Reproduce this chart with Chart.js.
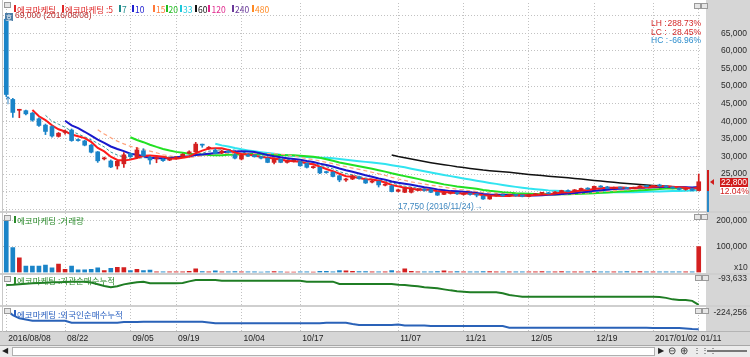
<!DOCTYPE html>
<html><head><meta charset="utf-8">
<script src="https://cdn.jsdelivr.net/npm/chart.js@4.4.1/dist/chart.umd.min.js"></script>
<style>
html,body{margin:0;padding:0}
body{width:750px;height:357px;overflow:hidden;background:#fff;position:relative}
.a{position:absolute}
canvas{position:absolute;left:0}
.k{position:absolute;white-space:nowrap;font-family:"Noto Sans CJK KR",sans-serif;font-size:8.5px;line-height:10px}
.n{position:absolute;white-space:nowrap;font-family:"Liberation Sans",Arial,sans-serif;font-size:8.5px;line-height:10px}
.b{position:absolute;width:2px;height:7px}
.ic{position:absolute;width:5px;height:4px;border:1px solid #9a9a9a;background:#e6e6e6}
.row{position:absolute;width:50px;display:flex;justify-content:space-between;font-family:"Liberation Sans",Arial,sans-serif;font-size:8.5px;line-height:9px;white-space:pre}
</style></head><body>
<div class="a" style="left:706px;top:0;width:44px;height:332px;background:#d6d6d6"></div>
<div class="a" style="left:0;top:332px;width:750px;height:13px;background:#d6d6d6"></div>
<canvas id="cP" width="750" height="213" style="top:0"></canvas>
<canvas id="cV" width="750" height="61" style="top:213px"></canvas>
<canvas id="cI" width="750" height="32" style="top:274px"></canvas>
<canvas id="cF" width="750" height="39" style="top:306px"></canvas>

<!-- pane separators and frame -->
<div class="a" style="left:0;top:211px;width:750px;height:2px;background:#cfcfcf"></div>
<div class="a" style="left:0;top:273px;width:750px;height:2px;background:#cfcfcf"></div>
<div class="a" style="left:0;top:305px;width:750px;height:2px;background:#cfcfcf"></div>
<div class="a" style="left:0;top:331px;width:750px;height:1px;background:#b4b4b4"></div>
<div class="a" style="left:2px;top:0;width:1px;height:332px;background:#c8c8c8"></div>

<!-- price pane header -->
<div class="ic" style="left:4px;top:2px"></div>
<div class="a" style="left:5px;top:13px;width:8px;height:8px;background:#4d7ea8;color:#fff;font:6.5px 'Noto Sans CJK KR';line-height:8px;text-align:center">호</div>
<i class="b" style="left:14px;top:5px;background:#e02828"></i><span class="k" style="left:17px;top:3.8px;color:#e02828">에코마케팅</span>
<i class="b" style="left:62px;top:5px;background:#e02828"></i><span class="k" style="left:65px;top:3.8px;color:#e02828">에코마케팅 :5</span>
<i class="b" style="left:119px;top:5px;background:#1e8c8c"></i><span class="k" style="left:122px;top:3.8px;color:#1e8c8c">7</span>
<i class="b" style="left:132px;top:5px;background:#2020d0"></i><span class="k" style="left:135px;top:3.8px;color:#2020d0">10</span>
<i class="b" style="left:153px;top:5px;background:#ff7a3a"></i><span class="k" style="left:156px;top:3.8px;color:#ff7a3a">15</span>
<i class="b" style="left:166px;top:5px;background:#22bb22"></i><span class="k" style="left:168.5px;top:3.8px;color:#22bb22">20</span>
<i class="b" style="left:180px;top:5px;background:#1ec8dc"></i><span class="k" style="left:183px;top:3.8px;color:#1ec8dc">33</span>
<i class="b" style="left:195px;top:5px;background:#111"></i><span class="k" style="left:198px;top:3.8px;color:#111">60</span>
<i class="b" style="left:208px;top:5px;background:#e0288c"></i><span class="k" style="left:211.5px;top:3.8px;color:#e0288c">120</span>
<i class="b" style="left:232px;top:5px;background:#6a3a9a"></i><span class="k" style="left:235px;top:3.8px;color:#6a3a9a">240</span>
<i class="b" style="left:252px;top:5px;background:#ff8a24"></i><span class="k" style="left:255px;top:3.8px;color:#ff8a24">480</span>
<span class="n" style="left:15px;top:9.5px;color:#b83232">69,000 (2016/08/08)</span>
<span class="k" style="left:3.5px;top:96px;color:#2a7fc0;font-weight:bold;font-size:9px">↑</span>
<div class="ic" style="left:694px;top:3px"></div><div class="ic" style="left:701px;top:3px"></div>
<div class="row" style="left:651px;top:19px;color:#d42828"><span>LH :</span><span>288.73%</span></div>
<div class="row" style="left:651px;top:27.5px;color:#d42828"><span>LC :</span><span>28.45%</span></div>
<div class="row" style="left:651px;top:35.5px;color:#2a8ccc"><span>HC :</span><span>-66.96%</span></div>
<span class="n" style="left:398px;top:201px;color:#3f88c0">17,750 (2016/11/24)→</span>

<!-- last price marker -->
<div class="a" style="left:707px;top:170px;width:2px;height:21px;background:#d01c1c"></div>
<div class="a" style="left:707px;top:191px;width:2px;height:21px;background:#2a8ac8"></div>
<div class="a" style="left:710px;top:179px;width:0;height:0;border-top:3px solid transparent;border-bottom:3px solid transparent;border-right:4px solid #d01c1c"></div>
<div class="n" style="left:720px;top:178px;width:28px;height:8.5px;line-height:8.5px;background:#d01c1c;color:#fff;text-align:center">22,800</div>
<div class="n" style="left:720px;top:187px;width:28px;height:8px;line-height:8px;background:#fff;color:#d01c1c;text-align:center">12.04%</div>

<!-- volume pane header -->
<div class="ic" style="left:4px;top:215px"></div>
<i class="b" style="left:14px;top:216px;background:#2a8a2a"></i><span class="k" style="left:17px;top:214.7px;color:#2a8a2a">에코마케팅 :거래량</span>
<div class="ic" style="left:694px;top:214px"></div><div class="ic" style="left:701px;top:214px"></div>
<span class="n" style="left:734px;top:261.5px;color:#333">x10</span>

<!-- institution pane header -->
<div class="ic" style="left:4px;top:276px"></div>
<i class="b" style="left:14px;top:276.5px;background:#2a8a2a"></i><span class="k" style="left:17px;top:274.7px;color:#2a8a2a">에코마케팅 :기관순매수누적</span>
<div class="ic" style="left:695px;top:275px"></div><div class="ic" style="left:702px;top:275px"></div>

<!-- foreign pane header -->
<div class="ic" style="left:4px;top:308px"></div>
<i class="b" style="left:14px;top:310px;background:#2a60c0"></i><span class="k" style="left:17px;top:308.7px;color:#2a60c0">에코마케팅 :외국인순매수누적</span>
<div class="ic" style="left:695px;top:308px"></div><div class="ic" style="left:702px;top:308px"></div>

<!-- scrollbar -->
<div class="a" style="left:0;top:345px;width:750px;height:12px;background:#ececec;border-top:1px solid #a8a8a8;box-sizing:border-box"></div>
<div class="a" style="left:12px;top:347px;width:643px;height:9px;background:#fff;border:1px solid #b0b0b0;box-sizing:border-box"></div>
<span class="n" style="left:2px;top:346px;font-size:8px;color:#222">◀</span>
<span class="n" style="left:658px;top:346px;font-size:8px;color:#222">▶</span>
<span class="n" style="left:668px;top:346px;font-size:10px;color:#333">⊖</span>
<span class="n" style="left:680px;top:346px;font-size:10px;color:#333">⊕</span>
<span class="n" style="left:693px;top:346px;font-size:8px;color:#333">⋮⋮⋮</span>
<div class="a" style="left:707px;top:350px;width:40px;height:2px;background:#777"></div>

<script>
// ---------- data ----------
const dates = [
'2016/08/08','2016/08/09','2016/08/10','2016/08/11','2016/08/12',
'2016/08/16','2016/08/17','2016/08/18','2016/08/19',
'2016/08/22','2016/08/23','2016/08/24','2016/08/25','2016/08/26',
'2016/08/29','2016/08/30','2016/08/31','2016/09/01','2016/09/02',
'2016/09/05','2016/09/06','2016/09/07','2016/09/08','2016/09/09',
'2016/09/12','2016/09/13',
'2016/09/19','2016/09/20','2016/09/21','2016/09/22','2016/09/23',
'2016/09/26','2016/09/27','2016/09/28','2016/09/29','2016/09/30',
'2016/10/04','2016/10/05','2016/10/06','2016/10/07',
'2016/10/10','2016/10/11','2016/10/12','2016/10/13','2016/10/14',
'2016/10/17','2016/10/18','2016/10/19','2016/10/20','2016/10/21',
'2016/10/24','2016/10/25','2016/10/26','2016/10/27','2016/10/28',
'2016/10/31','2016/11/01','2016/11/02','2016/11/03','2016/11/04',
'2016/11/07','2016/11/08','2016/11/09','2016/11/10','2016/11/11',
'2016/11/14','2016/11/15','2016/11/16','2016/11/17','2016/11/18',
'2016/11/21','2016/11/22','2016/11/23','2016/11/24','2016/11/25',
'2016/11/28','2016/11/29','2016/11/30','2016/12/01','2016/12/02',
'2016/12/05','2016/12/06','2016/12/07','2016/12/08','2016/12/09',
'2016/12/12','2016/12/13','2016/12/14','2016/12/15','2016/12/16',
'2016/12/19','2016/12/20','2016/12/21','2016/12/22','2016/12/23',
'2016/12/26','2016/12/27','2016/12/28','2016/12/29',
'2017/01/02','2017/01/03','2017/01/04','2017/01/05','2017/01/06',
'2017/01/09','2017/01/10','2017/01/11'];

const xTickDates = ['2016/08/08','2016/08/22','2016/09/05','2016/09/19','2016/10/04','2016/10/17','2016/11/07','2016/11/21','2016/12/05','2016/12/19','2017/01/02','2017/01/11'];
const xTickText  = ['2016/08/08','08/22','09/05','09/19','10/04','10/17','11/07','11/21','12/05','12/19','2017/01/02','01/11'];

const opens = [
69000,46200,43100,43000,42300,40700,38900,38500,35700,36800,
37500,34800,34400,33200,31300,29300,28700,27300,27900,30850,
29700,31600,29700,29300,29200,28950,29500,30000,30900,31300,
33400,32300,31800,31000,31500,30450,29250,30300,30300,29900,
29450,28300,29200,28300,28600,28500,28000,26800,26900,25600,
25500,24500,23300,23570,24200,23300,22700,22900,21800,21600,
20100,19800,19800,20400,20600,20550,19800,19200,19500,19700,
19200,19400,19300,18700,17900,18800,19100,18800,19000,18900,
18600,19100,19500,19600,19500,19900,20300,20100,20500,20900,
20800,21500,21300,20900,21200,21000,20900,21200,21500,21500,
21800,21600,21300,21000,20600,20800,20300];
const highs = [
69000,46500,43400,43200,42500,41000,39200,38700,36800,37500,
37800,35000,34600,33400,31400,29800,29000,28800,31100,31000,
32500,32200,30000,29800,29400,29600,30000,30800,31600,34000,
33500,32800,32200,31800,31700,30800,30500,30600,30400,30000,
29600,29300,29300,28900,29000,28700,28100,27300,27000,25800,
25600,24600,23800,24700,24400,23500,23200,23000,22300,21800,
20700,21100,21200,20900,20800,20700,19900,19900,19900,19800,
19600,19500,19400,18900,19000,19300,19300,19200,19200,19000,
19300,19500,19800,19800,20000,20400,20500,20600,21000,21100,
21600,21700,21500,21300,21300,21200,21300,21700,21800,21800,
22100,21800,21400,21100,21000,20900,25000];
const lows = [
47000,41100,41000,41800,40000,38500,36200,35500,35500,36300,
34300,34300,33000,31000,28300,29000,26800,26400,26900,29700,
29500,30000,27800,28200,28600,28800,29300,29800,30700,31200,
32600,32000,30700,30800,31000,29300,29000,29900,29800,29300,
28200,27900,28200,28100,28400,27200,26700,26600,25100,25200,
24200,22800,22900,23400,23500,22300,22500,21300,21600,19900,
19900,19700,19600,20200,20100,19700,18900,19100,19300,19200,
19000,19000,18500,17750,17800,18700,18700,18600,18700,18500,
18500,19000,19300,19300,19400,19800,19900,20000,20400,20600,
20700,21200,20800,20800,20900,20800,20800,21100,21300,21300,
21500,21200,20800,20500,20400,20200,20200];
const closes = [
47600,42500,43400,42100,40300,38800,37100,35800,36600,37200,
34500,34500,33200,31200,28750,29500,27000,28600,30450,29900,
31850,30200,29000,29600,28800,29450,29700,30600,31300,33500,
33200,32600,30850,31500,31200,29500,30350,30100,29900,29500,
28300,29200,28300,28700,28800,27340,26900,27100,25300,25400,
24300,23300,23500,24500,23700,22450,22900,21900,22100,20000,
20500,20900,20750,20600,20400,19800,19000,19700,19700,19400,
19400,19200,19000,17900,18850,19100,18800,19000,18900,18700,
19100,19400,19600,19400,19900,20300,20000,20500,20900,20700,
21500,21300,20900,21200,21000,20900,21200,21600,21400,21700,
21600,21300,21000,20600,20800,20350,22800];

// moving-average lines (first index where each line begins)
const ma5Start = 4;
const ma5 = [
43180,41420,40340,38820,37720,37100,36240,35720,35200,34120,
32430,31430,29930,29010,28860,29090,29560,30200,30280,30110,
29890,29410,29310,29630,29970,30910,31660,32240,32290,32330,
31870,31130,30680,30530,30210,29870,29630,29400,29040,28800,
28660,28468,28008,27768,27088,26408,25800,25080,24360,24200,
23860,23490,23410,23090,22610,21870,21480,21080,20850,20550,
20630,20490,20110,19900,19720,19520,19440,19480,19340,18980,
18870,18810,18730,18730,18930,18900,18900,19020,19140,19240,
19480,19720,19840,20020,20320,20480,20720,20980,21060,21120,
21180,21060,21040,21180,21220,21360,21500,21520,21400,21240,
21060,20810,21110];
const ma7Start = 6;
const ma7 = [
41686,40000,39157,38271,37186,36357,35557,34714,33707,32693,
31236,30393,29814,29343,29436,29643,29571,29943,29971,29829,
29800,29621,29779,30421,30936,31479,31679,31936,32021,31764,
31314,30871,30486,30293,29836,29550,29379,29143,28957,28591,
28220,28049,27491,27077,26449,25663,25114,24771,24286,23879,
23521,23179,23007,22507,21936,21536,21293,20964,20750,20421,
20279,20164,19993,19800,19629,19457,19343,19186,19064,18979,
18893,18836,18793,18750,18921,19000,19071,19157,19286,19486,
19671,19871,20086,20243,20543,20743,20829,21000,21071,21071,
21143,21157,21171,21286,21343,21386,21400,21314,21200,21050,21207];
const ma10Start = 9;
const ma10 = [
40140,38830,38030,37010,35920,34765,33835,32825,32105,31490,
30760,30495,30065,29645,29485,29490,29485,29755,29955,30040,
30400,30535,30775,30960,31150,31390,31395,31460,31410,31270,
30870,30380,30040,29785,29505,29265,29049,28704,28404,27944,
27534,27134,26544,26064,25644,25134,24645,24245,23725,23405,
22865,22485,22245,21970,21580,21250,20985,20595,20375,20135,
20075,19965,19795,19620,19350,19195,19125,19105,19035,18955,
18885,18855,18875,18935,19085,19190,19310,19430,19580,19780,
19980,20220,20410,20540,20720,20830,20890,21010,21120,21170,
21270,21280,21280,21290,21230,21210,21155,21315];
const ma15Start = 14;
const ma15 = [
37570,36363,35330,34343,33567,32873,32410,31950,31497,31030,
30470,30133,29813,29640,29647,29963,30210,30583,30733,30803,
30890,30733,30743,30817,30837,30883,30807,30773,30620,30447,
30133,29743,29363,29113,28699,28313,27966,27496,27056,26696,
26309,25919,25499,25073,24633,24046,23590,23190,22767,22453,
22120,21820,21533,21280,20960,20673,20470,20223,20030,19750,
19673,19580,19440,19323,19210,19097,19050,19077,19070,19050,
19083,19143,19197,19297,19497,19620,19780,19947,20073,20227,
20380,20500,20620,20753,20887,21007,21093,21180,21213,21193,
21200,21123,21223];
const ma20Start = 19;
const ma20 = [
35450,34663,34048,33328,32703,32128,31660,31290,31030,30765,
30580,30515,30420,30303,30318,30440,30440,30608,30683,30655,
30635,30458,30408,30373,30328,30328,30222,30082,29907,29607,
29202,28757,28292,27925,27575,27200,26847,26475,26065,25675,
25200,24810,24395,24017,23612,23192,22815,22420,22050,21770,
21470,21225,21020,20795,20465,20223,20055,19850,19705,19545,
19480,19410,19335,19278,19218,19193,19218,19268,19308,19368,
19433,19538,19643,19738,19903,20010,20100,20220,20350,20475,
20625,20750,20845,20915,20975,21020,21023,21163];
const ma33Start = 32;
const ma33 = [
33626,33138,32795,32374,32018,31709,31439,31209,30982,30758,
30488,30312,30139,29962,29832,29782,29654,29606,29476,29259,
29065,28842,28645,28447,28244,28035,27812,27518,27212,26897,
26510,26128,25759,25424,25045,24697,24400,24068,23744,23419,
23101,22786,22472,22194,21894,21597,21341,21092,20850,20671,
20495,20347,20244,20147,20011,19914,19867,19800,19788,19764,
19791,19812,19815,19820,19838,19874,19923,20005,20062,20111,
20159,20195,20244,20285,20433];
const ma60Start = 59;
const ma60 = [
30428,29977,29617,29239,28881,28549,28232,27931,27662,27381,
27084,26832,26577,26341,26119,25954,25781,25644,25484,25292,
25105,24892,24712,24556,24386,24237,24085,23923,23755,23582,
23368,23173,22985,22819,22647,22477,22334,22182,22040,21898,
21768,21657,21525,21403,21268,21135,21018,20950];

const volumes = [
204000,96000,57000,25000,25000,25000,29000,18000,33000,12000,
25000,10000,10000,12000,18000,7000,16000,20000,19000,7000,
12000,7000,9000,3000,2500,2500,2500,3000,5000,14000,
4000,3000,6000,2500,3000,3500,2500,2500,3000,2000,
3000,4000,2500,2000,2000,3000,3000,2000,5000,5000,
3000,7000,6000,5000,4000,4000,3000,3000,3000,7000,
3000,14000,5000,3000,2500,3000,4000,6000,3000,4000,
2500,3000,3000,4000,4000,3000,2500,3000,2500,3000,
2500,3000,4000,3000,2500,4000,3000,2500,3000,2500,
3500,3000,3000,2500,3000,4000,3000,3500,3000,2500,
3000,3000,2500,3000,2500,3000,100000];

const instCum = [
-99600,-99300,-98800,-98300,-98000,-97600,-97300,-97000,-96800,-96600,
-96400,-96300,-96300,-97200,-98800,-100600,-101900,-100800,-99000,-97800,
-96800,-96300,-97900,-97900,-97900,-97900,-97900,-97600,-96000,-94600,
-94600,-94600,-94600,-95300,-95300,-95300,-95300,-95300,-95300,-95300,
-95300,-95300,-95300,-95300,-95300,-95300,-96300,-96300,-96300,-96300,
-96300,-98600,-98600,-98600,-98600,-98600,-98600,-98600,-98600,-98600,
-99300,-99600,-100300,-101000,-101800,-102300,-102900,-104000,-105000,-105800,
-106300,-106900,-106900,-106900,-106900,-106900,-107800,-109600,-110500,-111300,
-111300,-111300,-111300,-111300,-111300,-111300,-111300,-111300,-111300,-111300,
-111300,-111300,-111300,-111300,-111300,-111300,-111300,-111300,-111300,-111300,
-111600,-112500,-114000,-114600,-114600,-115500,-119600];
const foreignCum = [
-221300,-226300,-229600,-230800,-232000,-232000,-232000,-232000,-232000,-232000,
-234000,-234000,-234000,-234000,-234000,-234000,-234000,-234000,-233300,-233300,
-233300,-233000,-233000,-233000,-233000,-233000,-233000,-233000,-233000,-233000,
-233000,-233800,-234600,-234600,-234600,-234600,-234600,-234600,-234600,-234600,
-234600,-234600,-234600,-234600,-234600,-234600,-234600,-234600,-234600,-234000,
-234000,-234000,-234000,-235300,-236300,-236300,-236300,-236300,-236300,-236300,
-235800,-236800,-236800,-236800,-236800,-237300,-237300,-237300,-237300,-237300,
-237300,-237300,-237300,-237300,-237300,-237300,-237300,-239000,-239000,-239000,
-239000,-239000,-239000,-239000,-239000,-239000,-239000,-239000,-239000,-239000,
-239000,-239000,-239000,-239000,-239000,-239000,-239000,-239000,-239000,-239300,
-239300,-239300,-239300,-239300,-239800,-240300,-240600];

// axis tick values
const priceGridTicks  = [15000,20000,25000,30000,35000,40000,45000,50000,55000,60000,65000,70000];
const priceLabelTicks = [25000,30000,35000,40000,45000,50000,55000,60000,65000];
const volumeTicks = [100000,200000];
const instTicks = [-93633];
const foreignTicks = [-224256];

// ---------- rendering ----------
const RED = '#d42020', BLUE = '#1a84c8';
const candleColors = closes.map((c,i) => c >= opens[i] ? RED : BLUE);
const series = (start, vals) => dates.map((d,i) => (i >= start && i - start < vals.length) ? vals[i - start] : null);
const gridIdx = xTickDates.map(d => dates.indexOf(d));
const FONT_N = '"Liberation Sans", Arial, sans-serif';
const mctx = document.createElement('canvas').getContext('2d');
mctx.font = '8.5px ' + FONT_N;
const fmt = v => v.toLocaleString('en-US');
const padFor = vals => 45 - Math.max(...vals.map(v => mctx.measureText(fmt(v)).width));

function xScale(show){
  return {
    type:'category', offset:true,
    afterFit: s => { s.height = show ? 13 : 0; s.paddingLeft = 0; s.paddingRight = 0; },
    grid:{offset:false, drawTicks:false, lineWidth:1, color: c => gridIdx.includes(c.index) ? '#c2c2c2' : 'rgba(0,0,0,0)'},
    border:{display:false, dash:[1,2]},
    ticks:{display:show, autoSkip:false, maxRotation:0, minRotation:0, align:'start', labelOffset:2, padding:2,
      color:'#222', font:{family:FONT_N, size:8.5},
      callback:(v,i) => { const k = gridIdx.indexOf(i); return k >= 0 ? xTickText[k] : ''; }}
  };
}
function yScale(min, max, gridVals, labelVals, showGrid){
  return {
    position:'right', min, max,
    afterBuildTicks: s => { s.ticks = gridVals.map(v => ({value:v})); },
    afterFit: s => { s.width = 45; s.paddingTop = 0; s.paddingBottom = 0; },
    grid:{display:showGrid, drawTicks:false, color:'#c2c2c2', lineWidth:1},
    border:{display:false, dash:[1,2]},
    ticks:{autoSkip:false, crossAlign:'far', padding:padFor(labelVals), color:'#2a2a2a', font:{family:FONT_N, size:8.5},
      callback: v => labelVals.includes(v) ? fmt(v) : ''}
  };
}
function opts(pad, xs, ys){
  return {responsive:false, animation:false, events:[], layout:{padding:pad},
    plugins:{legend:{display:false}, tooltip:{enabled:false}}, scales:{x:xs, y:ys}};
}
function maLine(data, color, width, dash, order){
  return {type:'line', data, borderColor:color, borderWidth:width, borderDash:dash, pointRadius:0,
    fill:false, tension:0, spanGaps:false, order};
}

new Chart(document.getElementById('cP'), {
  type:'bar',
  data:{labels:dates, datasets:[
    {type:'bar', data:opens.map((o,i) => [o, closes[i]]), backgroundColor:candleColors, borderWidth:0,
      barThickness:4, minBarLength:1, grouped:false, order:0},
    {type:'bar', data:lows.map((l,i) => [l, highs[i]]), backgroundColor:candleColors, borderWidth:0,
      barThickness:1, grouped:false, order:1},
    maLine(series(ma5Start, ma5), '#ff1a1a', 2, [], 2),
    maLine(series(ma10Start, ma10), '#1818cc', 2, [], 3),
    maLine(series(ma7Start, ma7), '#3a9a9a', 1, [3,2], 4),
    maLine(series(ma15Start, ma15), '#ffa27a', 1.2, [4,3], 5),
    maLine(series(ma20Start, ma20), '#22e022', 2, [], 6),
    maLine(series(ma33Start, ma33), '#30e4f0', 2, [], 7),
    maLine(series(ma60Start, ma60), '#111111', 1.5, [], 8)
  ]},
  options:opts({left:3, right:3, top:3, bottom:1}, xScale(false), yScale(14200, 73610, priceGridTicks, priceLabelTicks, true))
});

new Chart(document.getElementById('cV'), {
  type:'bar',
  data:{labels:dates, datasets:[
    {data:volumes, backgroundColor:candleColors, borderWidth:0, barThickness:4, grouped:false}
  ]},
  options:opts({left:3, right:3, top:0, bottom:1.5}, xScale(false), yScale(0, 230000, volumeTicks, volumeTicks, true))
});

new Chart(document.getElementById('cI'), {
  type:'line',
  data:{labels:dates, datasets:[
    {data:instCum, borderColor:'#1f7d24', borderWidth:2, pointRadius:0, tension:0, fill:false}
  ]},
  options:opts({left:3, right:3, top:0, bottom:0}, xScale(false), yScale(-120633, -88633, instTicks, instTicks, false))
});

new Chart(document.getElementById('cF'), {
  type:'line',
  data:{labels:dates, datasets:[
    {data:foreignCum, borderColor:'#2a62b8', borderWidth:2, pointRadius:0, tension:0, fill:false}
  ]},
  options:opts({left:3, right:3, top:0, bottom:0}, xScale(true), yScale(-243256, -217256, foreignTicks, foreignTicks, false))
});
</script>
</body></html>
